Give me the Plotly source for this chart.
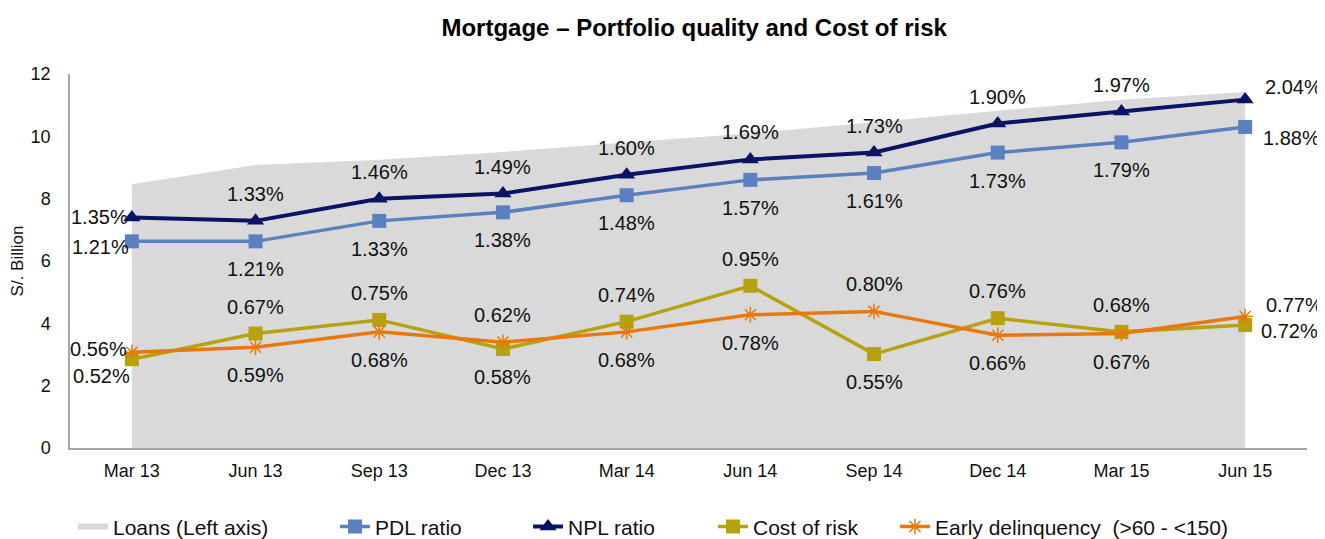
import plotly.graph_objects as go

# ---- data ----
quarters = ["Mar 13", "Jun 13", "Sep 13", "Dec 13", "Mar 14",
            "Jun 14", "Sep 14", "Dec 14", "Mar 15", "Jun 15"]
loans = [8.46, 9.08, 9.25, 9.5, 9.8, 10.1, 10.45, 10.82, 11.17, 11.42]
pdl = [1.21, 1.21, 1.33, 1.38, 1.48, 1.57, 1.61, 1.73, 1.79, 1.88]
npl = [1.35, 1.33, 1.46, 1.49, 1.60, 1.69, 1.73, 1.90, 1.97, 2.04]
cor = [0.52, 0.67, 0.75, 0.58, 0.74, 0.95, 0.55, 0.76, 0.68, 0.72]
early = [0.56, 0.59, 0.68, 0.62, 0.68, 0.78, 0.80, 0.66, 0.67, 0.77]

# ---- label placement (style) ----
# codes: 'a' above, 'b' below, others are (xanchor, xshift, yshift)
pos_pdl = [("right", -1, -6)] + ["b"] * 8 + [("left", 16, -11)]
pos_npl = [("right", -2, 0)] + ["a"] * 8 + [("left", 18, 13)]
pos_cor = [("right", 0, -17), "a", "a", "b", "a", "a", "b", "a", "a", ("left", 14, -6)]
pos_early = [("right", -3, 3), "b", "b", "a", "b", "b", "a", "b", "b", ("left", 19, 12)]

FONT = "Liberation Sans, Arial, sans-serif"
TXT = "#111111"
fig = go.Figure()

fig.add_trace(go.Scatter(
    x=quarters, y=loans, name="Loans (Left axis)", mode="none",
    fill="tozeroy", fillcolor="#D9D9D9", yaxis="y", hoverinfo="skip",
    legend="legend"))

series = [
    ("PDL ratio", pdl, "#5B80BF", dict(symbol="square", size=14), 3.5, pos_pdl, "legend2"),
    ("NPL ratio", npl, "#0A1464", dict(symbol="triangle-up", size=15), 4, pos_npl, "legend3"),
    ("Cost of risk", cor, "#B5A20E", dict(symbol="square", size=14), 3.5, pos_cor, "legend4"),
    ("Early delinquency  (>60 - <150)", early, "#E8780A",
     dict(symbol="asterisk-open", size=13, line=dict(width=1.5, color="#E8780A")), 3.5,
     pos_early, "legend5"),
]

annotations = []
for name, vals, color, mk, lw, positions, lg in series:
    marker = dict(color=color, **mk)
    fig.add_trace(go.Scatter(
        x=quarters, y=vals, name=name, mode="lines+markers", yaxis="y2",
        line=dict(color=color, width=lw), marker=marker, legend=lg))
    for q, v, p in zip(quarters, vals, positions):
        if p == "a":
            xa, xs, ys = "center", 0, 27
        elif p == "b":
            xa, xs, ys = "center", 0, -28
        else:
            xa, xs, ys = p
        annotations.append(dict(
            x=q, y=v, xref="x", yref="y2", text=f"{v:.2f}%", showarrow=False,
            xanchor=xa, yanchor="middle", xshift=xs, yshift=ys,
            font=dict(family=FONT, size=20, color=TXT)))

legend_x = [0.0024, 0.2142, 0.3703, 0.5198, 0.6669]
legend_common = dict(orientation="h", xanchor="left", y=-0.211, yanchor="middle",
                     font=dict(family=FONT, size=21, color=TXT), itemwidth=30,
                     bgcolor="rgba(0,0,0,0)", borderwidth=0)
legends = {}
for i, lx in enumerate(legend_x):
    key = "legend" if i == 0 else f"legend{i + 1}"
    legends[key] = dict(x=lx, **legend_common)

fig.update_layout(
    width=1317, height=531,
    margin=dict(l=62, r=18, t=66, b=91, autoexpand=False),
    paper_bgcolor="white", plot_bgcolor="white",
    font=dict(family=FONT, color=TXT),
    title=dict(text="<b>Mortgage – Portfolio quality and Cost of risk</b>",
               x=0.521, xanchor="center", y=0.963, yanchor="middle",
               font=dict(family=FONT, size=24, color="black")),
    xaxis=dict(type="category", showgrid=False, showline=True, linecolor="#A6A6A6",
               linewidth=1.5, ticks="", tickfont=dict(size=18, color=TXT),
               ticklabelstandoff=6, range=[-0.5, 9.5]),
    yaxis=dict(range=[0, 12], dtick=2, showgrid=False, showline=True,
               linecolor="#A6A6A6", linewidth=1.5, ticks="", zeroline=False,
               tickfont=dict(size=18, color=TXT), ticklabelstandoff=14,
               title=dict(text="S/. Billion", font=dict(size=17, color=TXT), standoff=4)),
    yaxis2=dict(overlaying="y", range=[0, 2.19], visible=False, showgrid=False),
    annotations=annotations,
    showlegend=True,
    **legends,
)

fig.write_html("out.html")
